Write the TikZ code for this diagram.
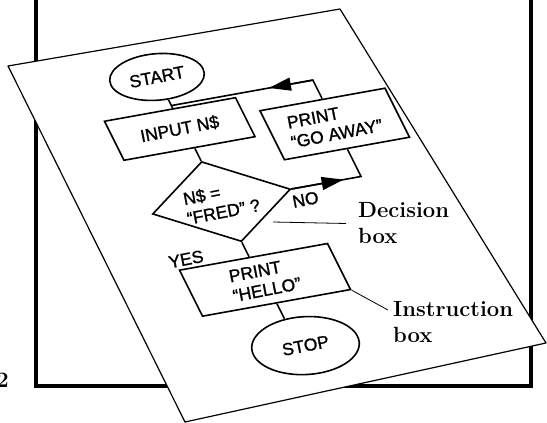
\documentclass[tikz,border=0pt]{standalone}
\usepackage{fontspec}
\newfontfamily\chartfont[FakeBold=1.2]{Liberation Sans}
\usetikzlibrary{
  calc, % Für Koordinatenberechnungen
  shapes.geometric, % Für Ellipse und Raute
  arrows.meta % Für Pfeilspitzen
}

\begin{document}
\begin{tikzpicture}[
    x=1pt, y=1pt,
    >={Triangle[length=22pt, width=13pt]}, % Standard-Pfeilspitze
    rahmen/.style={line width=3.2pt}, % Bilderrahmen
    blatt/.style={fill=white, line width=1.2pt, line join=round}, % Papierblatt
    kasten/.style={draw, rectangle, line width=1.6pt, inner sep=0pt, transform shape},
    oval/.style={draw, ellipse, line width=1.6pt, inner sep=0pt, transform shape},
    raute/.style={draw, diamond, line width=1.6pt, inner sep=0pt, transform shape},
    linie/.style={line width=1.6pt},
    pfeil/.style={line width=1.6pt, ->},
    schrift/.style={font=\chartfont\fontsize{17.5}{20}\selectfont, rotate=11, align=left, inner sep=0pt},
    notiz/.style={font=\bfseries\fontsize{22}{26}\selectfont, align=left, inner sep=0pt},
    zeiger/.style={line width=0.8pt},
  ]
    % Bildgröße
    \fill[white] (0,0) rectangle (547,-423);
    \useasboundingbox (0,0) rectangle (547,-423);
    % Rahmen
    \draw[rahmen] (36,2) -- (36,-386) -- (531,-386) -- (531,2);
    \node[notiz, anchor=base east] (nummer) at (9,-387) {2};
    % Eckpunkte vom Blatt
    \coordinate (A) at (8,-66);
    \coordinate (B) at (340,-9);
    \coordinate (C) at (546,-343);
    \coordinate (D) at (185,-422);
    \draw[blatt] (A) -- (B) -- (C) -- (D) -- cycle;
    % Ablaufplan auf dem schiefen Blatt
    \begin{scope}[cm={1,0.18,-0.5,1,(200,-200)}]
      \node[oval, minimum width=92pt, minimum height=44pt] (start) at (17,120) {};
      \node[kasten, minimum width=131pt, minimum height=39pt] (input) at (14,68.5) {};
      \node[kasten, minimum width=125pt, minimum height=49pt] (goaway) at (158.5,47.5) {};
      \node[raute, minimum width=138pt, minimum height=80pt] (frage) at (19,-5) {};
      \node[kasten, minimum width=148pt, minimum height=46pt] (hello) at (23,-84) {};
      \node[oval, minimum width=104pt, minimum height=55pt] (stop) at (30,-151) {};
      % Texte
      \node[schrift] (startText) at (start) {START};
      \node[schrift] (inputText) at (input) {INPUT N\$};
      \node[schrift] (goawayText) at (goaway) {PRINT\\“GO AWAY”};
      \node[schrift] (frageText) at (frage) {N\$ =\\“FRED” ?};
      \node[schrift] (helloText) at (hello) {PRINT\\“HELLO”};
      \node[schrift] (stopText) at (stop) {STOP};
      \node[schrift] (nein) at (97,-17) {NO};
      \node[schrift] (ja) at (-40,-52) {YES};
      % Verbindungen
      \coordinate (knoten) at ($(start.south)!0.7!(start.south |- input.north)$);
      \draw[linie] (start.south) -- (start.south |- input.north);
      \draw[linie] (frage.north |- input.south) -- (frage.north);
      \draw[linie] (frage.south) -- (frage.south |- hello.north);
      \draw[linie] (hello.south) -- (hello.south |- stop.north);
      \draw[linie] (goaway.north) |- (knoten);
      \draw[linie] (frage.east) -| (goaway.south);
      % Pfeile
      \draw[pfeil] (goaway.north |- knoten) -- ($(goaway.north |- knoten)!0.31!(knoten)$);
      \draw[pfeil] (frage.east) -- ($(frage.east)!0.75!(frage.east -| goaway.south)$);
    \end{scope}
    % Beschriftungen
    \coordinate (entscheid) at (273,-222);
    \node[notiz, anchor=west, inner xsep=12pt] (entLabel) at (346,-223.5) {Decision\\box};
    \draw[zeiger] (entscheid) -- (entLabel.west);
    \node[notiz, anchor=west, inner xsep=5pt] (befLabel) at (388,-322.5) {Instruction\\box};
    \draw[zeiger] (hello.south east) -- ($(befLabel.north west)!0.2!(befLabel.south west)$);
\end{tikzpicture}
\end{document}
